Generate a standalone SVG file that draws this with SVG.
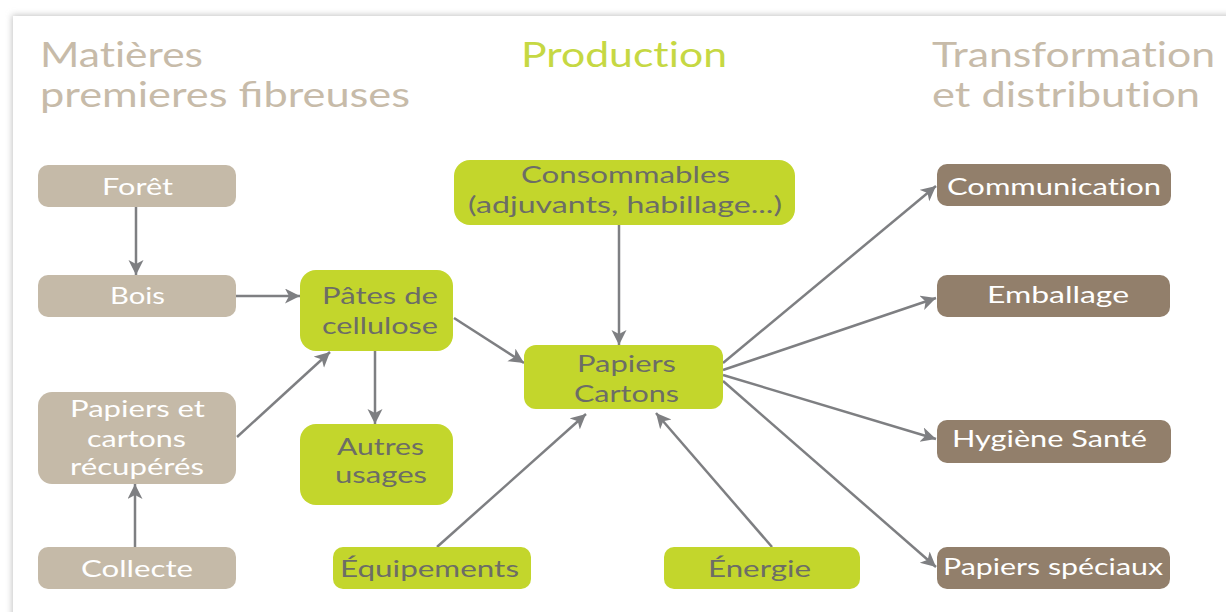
<svg xmlns="http://www.w3.org/2000/svg" width="1226" height="612" viewBox="0 0 1226 612">
<defs>
<filter id="sh" x="-5%" y="-5%" width="110%" height="110%"><feGaussianBlur stdDeviation="3"/></filter>
<marker id="ah" markerUnits="userSpaceOnUse" markerWidth="18" markerHeight="18" refX="15" refY="7.5" orient="auto"><path d="M0,0 L15,7.5 L0,15 L4,7.5 z" fill="#7e7f82"/></marker>
<style>
text{font-family:Lato,"Open Sans","DejaVu Sans",sans-serif;font-variant-ligatures:none;}
.liga{font-variant-ligatures:common-ligatures;}
.title{font-size:35px;}
.tb{fill:#c7bba9;}
.tg{fill:#c6d843;}
.lbl{font-size:24px;}
.beige{fill:#c5baa8;}
.brown{fill:#927f6b;}
.green{fill:#c3d62c;}
.wt{fill:#ffffff;}
.gt{fill:#6c6d66;}
.con line{stroke:#7e7f82;stroke-width:2.5;marker-end:url(#ah);}
</style>
</defs>
<rect width="1226" height="612" fill="#ffffff"/>
<rect x="12" y="15" width="1240" height="620" fill="#c4c4c4" filter="url(#sh)"/>
<rect x="13" y="16" width="1240" height="620" fill="#ffffff"/>

<g id="titles">
<text class="title tb" x="40" y="67" textLength="163" lengthAdjust="spacingAndGlyphs">Matières</text>
<text class="title tb liga" x="40" y="107" textLength="370" lengthAdjust="spacingAndGlyphs">premieres fibreuses</text>
<text class="title tg" x="521" y="67" textLength="206" lengthAdjust="spacingAndGlyphs">Production</text>
<text class="title tb" x="932" y="67" textLength="283" lengthAdjust="spacingAndGlyphs">Transformation</text>
<text class="title tb" x="932" y="107" textLength="268" lengthAdjust="spacingAndGlyphs">et distribution</text>
</g>

<g id="connectors" class="con">
<line x1="136" y1="207" x2="136" y2="275"/>
<line x1="236" y1="296" x2="300" y2="296"/>
<line x1="237" y1="437" x2="330" y2="352"/>
<line x1="135" y1="547" x2="135" y2="484"/>
<line x1="375" y1="350" x2="375" y2="424"/>
<line x1="454" y1="318" x2="524" y2="363"/>
<line x1="619" y1="225" x2="619" y2="345"/>
<line x1="437" y1="547" x2="586" y2="414"/>
<line x1="772" y1="547" x2="656" y2="413"/>
<line x1="723" y1="363" x2="936" y2="186"/>
<line x1="723" y1="370" x2="936" y2="298"/>
<line x1="723" y1="375" x2="936" y2="439"/>
<line x1="723" y1="381" x2="936" y2="567"/>
</g>

<g id="foret"><rect class="beige" x="38" y="165" width="198" height="42" rx="10"/><text class="lbl wt" x="102" y="195" textLength="71" lengthAdjust="spacingAndGlyphs">Forêt</text></g>
<g id="bois"><rect class="beige" x="38" y="275" width="198" height="42" rx="10"/><text class="lbl wt" x="110" y="304" textLength="55" lengthAdjust="spacingAndGlyphs">Bois</text></g>
<g id="recup"><rect class="beige" x="38" y="392" width="198" height="92" rx="14"/>
<text class="lbl wt" x="70" y="417" textLength="135" lengthAdjust="spacingAndGlyphs">Papiers et</text>
<text class="lbl wt" x="87" y="447" textLength="99" lengthAdjust="spacingAndGlyphs">cartons</text>
<text class="lbl wt" x="70" y="475" textLength="134" lengthAdjust="spacingAndGlyphs">récupérés</text></g>
<g id="collecte"><rect class="beige" x="38" y="547" width="198" height="42" rx="10"/><text class="lbl wt" x="81" y="577" textLength="112" lengthAdjust="spacingAndGlyphs">Collecte</text></g>

<g id="pates"><rect class="green" x="300" y="270" width="153" height="81" rx="16"/>
<text class="lbl gt" x="322" y="304" textLength="116" lengthAdjust="spacingAndGlyphs">Pâtes de</text>
<text class="lbl gt" x="322" y="334" textLength="116" lengthAdjust="spacingAndGlyphs">cellulose</text></g>
<g id="autres"><rect class="green" x="300" y="424" width="153" height="81" rx="16"/>
<text class="lbl gt" x="337" y="455" textLength="87" lengthAdjust="spacingAndGlyphs">Autres</text>
<text class="lbl gt" x="335" y="483" textLength="92" lengthAdjust="spacingAndGlyphs">usages</text></g>
<g id="conso"><rect class="green" x="454" y="160" width="341" height="65" rx="16"/>
<text class="lbl gt" x="521" y="183" textLength="209" lengthAdjust="spacingAndGlyphs">Consommables</text>
<text class="lbl gt" x="468" y="213" textLength="314" lengthAdjust="spacingAndGlyphs">(adjuvants, habillage...)</text></g>
<g id="papcart"><rect class="green" x="524" y="345" width="199" height="64" rx="12"/>
<text class="lbl gt" x="577" y="372" textLength="99" lengthAdjust="spacingAndGlyphs">Papiers</text>
<text class="lbl gt" x="574" y="402" textLength="105" lengthAdjust="spacingAndGlyphs">Cartons</text></g>
<g id="equip"><rect class="green" x="333" y="547" width="198" height="42" rx="10"/><text class="lbl gt" x="340" y="577" textLength="179" lengthAdjust="spacingAndGlyphs">Équipements</text></g>
<g id="energie"><rect class="green" x="664" y="547" width="196" height="42" rx="10"/><text class="lbl gt" x="708" y="577" textLength="103" lengthAdjust="spacingAndGlyphs">Énergie</text></g>

<g id="comm"><rect class="brown" x="937" y="164" width="234" height="42" rx="10"/><text class="lbl wt" x="947" y="195" textLength="214" lengthAdjust="spacingAndGlyphs">Communication</text></g>
<g id="emb"><rect class="brown" x="937" y="275" width="233" height="42" rx="10"/><text class="lbl wt" x="987" y="303" textLength="142" lengthAdjust="spacingAndGlyphs">Emballage</text></g>
<g id="hyg"><rect class="brown" x="937" y="420" width="234" height="43" rx="10"/><text class="lbl wt" x="952" y="447" textLength="195" lengthAdjust="spacingAndGlyphs">Hygiène Santé</text></g>
<g id="spec"><rect class="brown" x="937" y="547" width="233" height="42" rx="10"/><text class="lbl wt" x="943" y="575" textLength="220" lengthAdjust="spacingAndGlyphs">Papiers spéciaux</text></g>
</svg>
